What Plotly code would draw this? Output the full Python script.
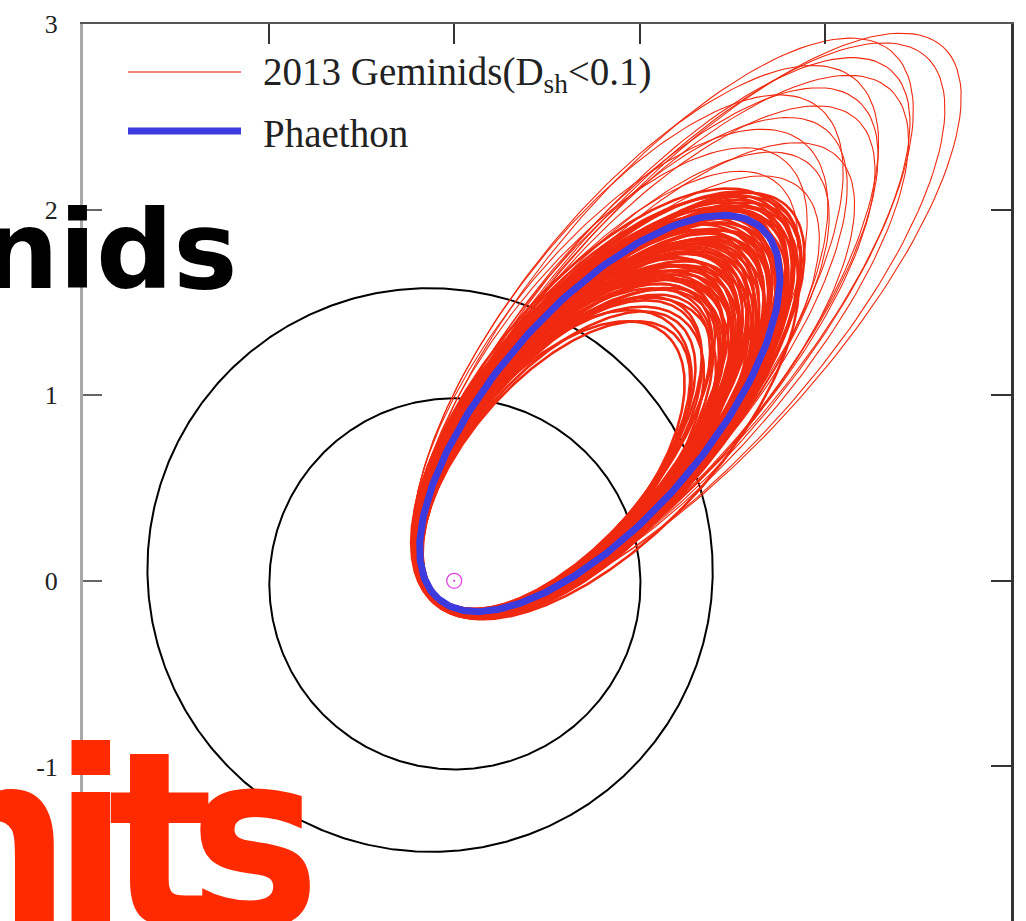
import numpy as np
import plotly.graph_objects as go

# ---- planetary orbits (heliocentric, ecliptic plane) ----
planet_a = [1.000, 1.524]          # semi-major axis [AU]
planet_e = [0.0167, 0.0934]        # eccentricity
planet_lperi = [102.9, 336.0]      # longitude of perihelion [deg]

# ---- 3200 Phaethon (drawn in its orbital plane) ----
phaethon_q = 0.13
phaethon_Q = 2.52
phaethon_lperi = 229.0

# ---- 2013 Geminid meteoroid orbits (D_sh < 0.1) ----
# main stream
gem_Q = [
    1.75, 1.78, 1.81, 1.84, 1.87, 1.90, 1.92, 1.94, 1.96, 1.98,
    2.00, 2.01, 2.02, 2.03, 2.04, 2.05, 2.06, 2.07, 2.08, 2.09,
    2.10, 2.11, 2.12, 2.13, 2.14, 2.15, 2.16, 2.17, 2.18, 2.19,
    2.20, 2.21, 2.22, 2.23, 2.24, 2.25, 2.26, 2.27, 2.28, 2.29,
    2.30, 2.31, 2.32, 2.33, 2.34, 2.35, 2.36, 2.37, 2.38, 2.39,
    2.40, 2.41, 2.42, 2.43, 2.44, 2.45, 2.46, 2.47, 2.48, 2.49,
    2.50, 2.51, 2.52, 2.53, 2.54, 2.55, 2.56, 2.57, 2.58, 2.59,
    2.60, 2.61, 2.62, 2.63, 2.64, 2.65, 2.66, 2.67, 2.68, 2.70,
]
gem_q = [
    0.138, 0.124, 0.151, 0.122, 0.147, 0.133, 0.125, 0.159, 0.121, 0.142,
    0.136, 0.123, 0.150, 0.127, 0.144, 0.122, 0.158, 0.125, 0.141, 0.134,
    0.129, 0.146, 0.120, 0.152, 0.127, 0.139, 0.130, 0.155, 0.128, 0.143,
    0.122, 0.148, 0.129, 0.136, 0.161, 0.127, 0.121, 0.145, 0.135, 0.130,
    0.156, 0.123, 0.142, 0.127, 0.149, 0.129, 0.137, 0.131, 0.163, 0.128,
    0.125, 0.153, 0.133, 0.127, 0.140, 0.124, 0.148, 0.121, 0.138, 0.157,
    0.129, 0.145, 0.127, 0.133, 0.151, 0.126, 0.140, 0.124, 0.160, 0.137,
    0.125, 0.149, 0.133, 0.130, 0.146, 0.124, 0.154, 0.132, 0.143, 0.127,
]
gem_lperi = [
    229.5, 228.5, 230.0, 229.0, 228.5, 229.5, 230.0, 228.0, 229.0, 229.5,
    228.5, 230.0, 229.0, 228.0, 229.5, 230.5, 228.5, 229.0, 229.5, 228.0,
    230.0, 229.0, 228.5, 229.5, 230.0, 228.0, 229.0, 230.5, 228.5, 229.5,
    229.0, 228.0, 230.0, 229.5, 228.5, 229.0, 230.0, 228.5, 229.5, 228.0,
    229.0, 230.0, 228.5, 229.5, 228.0, 229.0, 230.5, 228.5, 229.5, 229.0,
    228.0, 230.0, 229.0, 228.5, 229.5, 228.0, 230.0, 229.0, 228.5, 229.5,
    230.0, 228.5, 229.0, 228.0, 229.5, 230.0, 228.5, 229.0, 227.5, 229.5,
    228.5, 230.0, 228.0, 229.0, 229.5, 228.0, 230.0, 228.5, 229.0, 228.5,
]
# long-period stragglers
gem_far_Q = [2.76, 2.82, 2.88, 2.95, 3.02, 3.08, 3.15, 3.22,
             3.30, 3.38, 3.46, 3.54, 3.62, 3.70, 3.80, 3.90]
gem_far_q = [0.131, 0.128, 0.143, 0.129, 0.152, 0.127, 0.134, 0.146,
             0.128, 0.133, 0.149, 0.131, 0.127, 0.140, 0.132, 0.129]
gem_far_lperi = [231.0, 228.5, 232.0, 229.5, 231.5, 228.0, 230.5, 232.5,
                 229.0, 230.0, 231.5, 228.5, 229.5, 230.5, 228.0, 227.5]

# axis ticks
y_ticks = [-1, 0, 1, 2, 3]
y_tick_text = ["-1", "0", "1", "2", "3"]
x_ticks = [-2, -1, 0, 1, 2, 3]

NU = np.linspace(0.0, 2.0 * np.pi, 721)


def conic_xy(q, Q, lperi):
    """Heliocentric x, y of an elliptic orbit from q, Q and longitude of perihelion."""
    a = 0.5 * (q + Q)
    e = (Q - q) / (Q + q)
    r = a * (1 - e ** 2) / (1 + e * np.cos(NU))
    ang = np.radians(lperi) + NU
    return r * np.cos(ang), r * np.sin(ang)


def orbit_family(qs, Qs, lps):
    xs, ys = [], []
    for q, Q, lp in zip(qs, Qs, lps):
        ox, oy = conic_xy(q, Q, lp)
        xs.extend(ox.tolist() + [None])
        ys.extend(oy.tolist() + [None])
    return xs, ys


fig = go.Figure()

# planetary orbits
for a, e, lp in zip(planet_a, planet_e, planet_lperi):
    ox, oy = conic_xy(a * (1 - e), a * (1 + e), lp)
    fig.add_trace(go.Scatter(x=ox, y=oy, mode="lines",
                             line=dict(color="black", width=2),
                             hoverinfo="skip", showlegend=False))

# Geminid orbits
GEM_RED = "#f02a10"
fx_far, fy_far = orbit_family(gem_far_q, gem_far_Q, gem_far_lperi)
fig.add_trace(go.Scatter(x=fx_far, y=fy_far, mode="lines",
                         line=dict(color=GEM_RED, width=1.1),
                         hoverinfo="skip", showlegend=False))
gx, gy = orbit_family(gem_q, gem_Q, gem_lperi)
fig.add_trace(go.Scatter(x=gx, y=gy, mode="lines",
                         line=dict(color=GEM_RED, width=2.6),
                         hoverinfo="skip", showlegend=False))

# Phaethon
fx, fy = conic_xy(phaethon_q, phaethon_Q, phaethon_lperi)
fig.add_trace(go.Scatter(x=fx, y=fy, mode="lines",
                         line=dict(color="#3b3be0", width=7),
                         hoverinfo="skip", showlegend=False))

# Sun
fig.add_trace(go.Scatter(x=[0], y=[0], mode="markers",
                         marker=dict(symbol="circle-open-dot", size=15,
                                     color="#e040e0", line=dict(width=1.2)),
                         hoverinfo="skip", showlegend=False))

L, R, T, B = 83, 15, 24, 0
W, H = 1026, 921
PW, PH = W - L - R, H - T - B
y_bottom = 3 - PH * (x_ticks[-1] - x_ticks[0]) / PW


def px(xp):
    return (xp - L) / PW


def py(yp):
    return (H - B - yp) / PH


serif = "Liberation Serif, Times New Roman, serif"

# hand-drawn legend (long line samples)
legend_rows = [
    ("2013 Geminids(D<sub>sh</sub>&lt;0.1)", "#e85a4a", 1.5, 72),
    ("Phaethon", "#3b3be0", 7, 131),
]
shapes, annotations = [], []
for label, col, lw, yp in legend_rows:
    shapes.append(dict(type="line", xref="paper", yref="paper",
                       x0=px(128), x1=px(241), y0=py(yp), y1=py(yp),
                       line=dict(color=col, width=lw)))
    annotations.append(dict(text=label, xref="paper", yref="paper",
                            x=px(261), y=py(yp + 3), xanchor="left", yanchor="middle",
                            showarrow=False, font=dict(family=serif, size=39, color="#222")))

# title fragments across the frame
annotations.append(dict(text="<b>nids</b>", xref="paper", yref="paper",
                        x=px(240), y=py(250), xanchor="right", yanchor="middle",
                        showarrow=False,
                        font=dict(family="DejaVu Sans, Verdana, sans-serif", size=108, color="black")))
red_word = ["n", "i", "t", "s"]
red_centres = [-8, 91, 160, 254]
for ch, cx in zip(red_word, red_centres):
    annotations.append(dict(text="<b>%s</b>" % ch, xref="paper", yref="paper",
                            x=px(cx), y=py(697), xanchor="center", yanchor="top",
                            showarrow=False,
                            font=dict(family="DejaVu Sans Condensed, DejaVu Sans, sans-serif",
                                      size=245, color="#ff2a00")))

fig.update_layout(
    width=W, height=H,
    margin=dict(l=L, r=R, t=T, b=B, pad=0),
    paper_bgcolor="white", plot_bgcolor="white",
    shapes=shapes, annotations=annotations,
    xaxis=dict(range=[x_ticks[0], x_ticks[-1]], side="top", tickvals=x_ticks,
               showticklabels=False, ticks="inside", ticklen=20, tickwidth=2,
               tickcolor="#333", showline=True, linecolor="#555", linewidth=2,
               showgrid=False, zeroline=False, fixedrange=True),
    yaxis=dict(range=[y_bottom, 3], tickvals=y_ticks, ticktext=y_tick_text,
               ticks="inside", ticklen=19, tickwidth=2, tickcolor="#666",
               showline=True, linecolor="#a8a8a8", linewidth=3,
               ticklabelstandoff=17,
               tickfont=dict(family=serif, size=26, color="#222"),
               showgrid=False, zeroline=False, fixedrange=True),
    yaxis2=dict(range=[y_bottom, 3], overlaying="y", side="right",
                tickvals=y_ticks, showticklabels=False,
                ticks="inside", ticklen=20, tickwidth=2, tickcolor="#333",
                showline=True, linecolor="#333", linewidth=2.5,
                showgrid=False, zeroline=False, fixedrange=True),
)
# empty trace so the right-hand axis is drawn
fig.add_trace(go.Scatter(x=[None], y=[None], yaxis="y2", showlegend=False,
                         hoverinfo="skip"))

fig.write_html("out.html")
